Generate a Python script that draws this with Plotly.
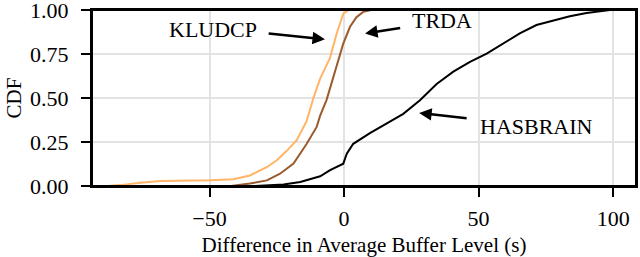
import plotly.graph_objects as go

# KLUDCP CDF points
kl_x = [-88, -83.2, -75.7, -68.3, -49.8, -41.2, -35.0, -28.6, -25.0, -21.3, -17.6, -13.9, -11.4, -8.9, -5.2, -2.7, -0.3, 1.6]
kl_y = [0.0, 0.005, 0.019, 0.028, 0.032, 0.038, 0.06, 0.108, 0.146, 0.20, 0.26, 0.37, 0.50, 0.61, 0.73, 0.87, 0.98, 1.0]

# TRDA CDF points
tr_x = [-42.0, -35.0, -28.7, -23.8, -18.8, -13.9, -10.2, -8.9, -6.5, -5.2, -2.7, -0.3, 2.2, 4.6, 7.1, 10.1]
tr_y = [0.0, 0.014, 0.032, 0.07, 0.127, 0.24, 0.336, 0.40, 0.49, 0.56, 0.68, 0.81, 0.905, 0.96, 0.99, 1.0]

# HASBRAIN CDF points
hb_x = [-33.0, -22.5, -16.3, -8.9, -5.2, -0.3, 1.0, 3.4, 9.6, 15.8, 22.0, 28.2, 34.4, 40.6, 46.8, 53.0, 59.1, 65.3, 71.5, 77.7, 83.9, 90.1, 98.8]
hb_y = [0.0, 0.008, 0.023, 0.055, 0.09, 0.127, 0.184, 0.24, 0.30, 0.355, 0.41, 0.488, 0.58, 0.65, 0.705, 0.753, 0.81, 0.867, 0.915, 0.94, 0.965, 0.983, 1.0]

x_ticks = [-50, 0, 50, 100]
y_ticks = [0.0, 0.25, 0.5, 0.75, 1.0]
y_tick_text = ["0.00", "0.25", "0.50", "0.75", "1.00"]

FONT = "Liberation Serif"

fig = go.Figure()
fig.add_hline(y=0.5, line=dict(color="rgba(230,120,120,0.6)", width=1.8), layer="below")
fig.add_trace(go.Scatter(x=kl_x, y=kl_y, mode="lines", name="KLUDCP",
                         line=dict(color="#ffb466", width=2)))
fig.add_trace(go.Scatter(x=tr_x, y=tr_y, mode="lines", name="TRDA",
                         line=dict(color="#9a5a2c", width=2)))
fig.add_trace(go.Scatter(x=hb_x, y=hb_y, mode="lines", name="HASBRAIN",
                         line=dict(color="#000000", width=2)))

labels = [
    ("KLUDCP", -48.8, 0.89, -28.6, 0.868, -7.1, 0.834),
    ("TRDA", 36.3, 0.943, 21.4, 0.90, 7.8, 0.867),
    ("HASBRAIN", 71.7, 0.34, 46.1, 0.384, 27.9, 0.415),
]
for txt, tx, ty, ax, ay, hx, hy in labels:
    fig.add_annotation(x=tx, y=ty, text=txt, showarrow=False,
                       font=dict(family=FONT, size=22, color="black"))
    fig.add_annotation(x=hx, y=hy, ax=ax, ay=ay, axref="x", ayref="y",
                       xref="x", yref="y", text="", showarrow=True,
                       arrowhead=2, arrowsize=1, arrowwidth=2.5, arrowcolor="black")

# frame around the plot area
fig.add_shape(type="rect", xref="paper", yref="paper", x0=0, y0=0, x1=1, y1=1,
              line=dict(color="black", width=2), layer="above")

axis_common = dict(showline=True, linecolor="black", linewidth=2, mirror=True,
                   ticks="outside", ticklen=9, tickwidth=2, tickcolor="black",
                   showgrid=True, gridcolor="#e3e3e3", gridwidth=1.5, zeroline=False,
                   ticklabeloverflow="allow",
                   tickfont=dict(family=FONT, size=22, color="black"))

fig.update_xaxes(range=[-93.7, 108.5], tickvals=x_ticks, ticklabelstandoff=3,
                 title=dict(text="Difference in Average Buffer Level (s)",
                            font=dict(family=FONT, size=21, color="black"), standoff=9),
                 **axis_common)
fig.update_yaxes(range=[0, 1.0005], tickvals=y_ticks, ticktext=y_tick_text, ticklabelstandoff=8,
                 title=dict(text="CDF", font=dict(family=FONT, size=21, color="black"), standoff=3),
                 **axis_common)

fig.update_layout(width=640, height=257, margin=dict(l=92, r=4, t=10, b=71, autoexpand=False),
                  plot_bgcolor="white", paper_bgcolor="white", showlegend=False,
                  font=dict(family=FONT, color="black"))

# remove the default page margin so the 640x257 figure fills the window exactly
fig.write_html("out.html", config={"displayModeBar": False},
               post_script="document.body.style.margin='0';"
                           "document.documentElement.style.overflow='hidden';"
                           "document.body.style.overflow='hidden';"
                           "window.scrollTo(0,0);")
